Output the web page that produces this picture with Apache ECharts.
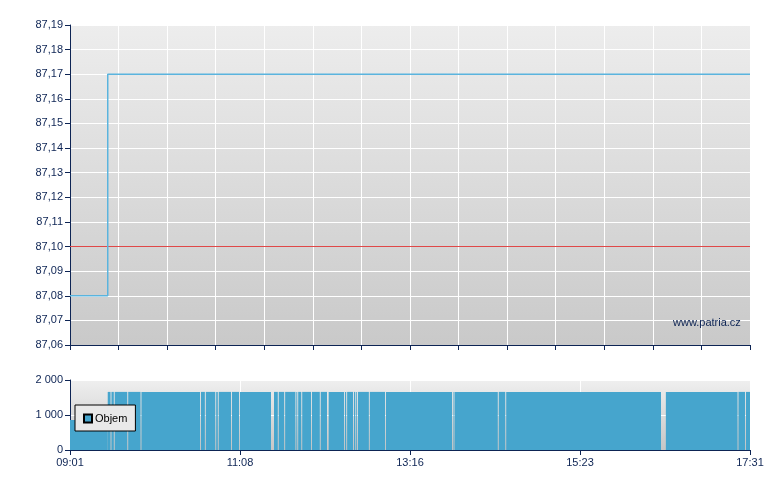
<!DOCTYPE html>
<html>
<head>
<meta charset="utf-8">
<script src="https://cdn.jsdelivr.net/npm/echarts@6/dist/echarts.min.js"></script>
<style>html,body{margin:0;padding:0;background:#fff;}#c{width:780px;height:490px;}</style>
</head>
<body>
<div id="c"></div>
<script>
// Time axis: minutes since 09:01 (09:01 .. 17:31)
const dayStart = 9 * 60 + 1;
const dayLength = 510;
const xTickLabels = ['09:01', '11:08', '13:16', '15:23', '17:31'];

// Price (step line)
const priceTimes = [0, 28.3, 510];
const priceValues = [87.08, 87.17, 87.17];
const prevClose = 87.10;
const priceTickLabels = ['87,06','87,07','87,08','87,09','87,10','87,11','87,12','87,13','87,14','87,15','87,16','87,17','87,18','87,19'];

// Volume (Objem) blocks: start minute, end minute, volume
const volStart = [0, 28.3, 31.1, 33.55, 43.65, 53.6, 98.25, 101.85, 109.65, 111.55, 121.45, 127.45, 153, 156.55, 161.35, 169.75, 171.15, 174.15, 181.45, 188.05, 194, 206.25, 207.85, 212.95, 214.65, 215.95, 224.85, 236.95, 287.25, 288.35, 321.55, 327.15, 446.9, 501.35, 506.95];
const volEnd   = [28.3, 30.4, 32.85, 42.95, 52.9, 97.55, 101.15, 108.95, 110.85, 120.75, 126.75, 150.75, 155.85, 160.65, 169.05, 170.45, 173.45, 180.75, 187.35, 192.75, 205.55, 207.15, 212.25, 213.95, 215.25, 224.15, 236.25, 286.55, 287.65, 320.85, 326.45, 443.25, 500.65, 506.25, 510];
const volValue = [860, 1660, 1660, 1660, 1660, 1660, 1660, 1660, 1660, 1660, 1660, 1660, 1660, 1660, 1660, 1660, 1660, 1660, 1660, 1660, 1660, 1660, 1660, 1660, 1660, 1660, 1660, 1660, 1660, 1660, 1660, 1660, 1660, 1660, 1660];
const volTickLabels = ['0', '1 000', '2 000'];

const navy = '#0d2454';
const font = 'Liberation Sans, Arial, sans-serif';
const bgGrad = (a, b) => new echarts.graphic.LinearGradient(0, 0, 0, 1, [{offset: 0, color: a}, {offset: 1, color: b}]);

const chart = echarts.init(document.getElementById('c'), null, {renderer: 'canvas'});
const priceData = priceTimes.map((t, i) => [t, priceValues[i]]);
const volData = volStart.map((s, i) => [s, volEnd[i], volValue[i]]);

chart.setOption({
  animation: false,
  backgroundColor: '#ffffff',
  textStyle: {fontFamily: font},
  grid: [
    {left: 70, right: 30, top: 25, height: 320, show: true, backgroundColor: bgGrad('#ededed', '#c9c9c9'), borderWidth: 0},
    {left: 70, right: 30, top: 380, height: 70, show: true, backgroundColor: bgGrad('#efefef', '#c6c6c6'), borderWidth: 0}
  ],
  legend: {
    data: [{name: 'Objem', icon: 'rect'}],
    left: 75, top: 405,
    padding: [8, 8, 7, 8],
    itemWidth: 8, itemHeight: 8, itemGap: 4,
    borderColor: '#000', borderWidth: 1, borderRadius: 0,
    backgroundColor: '#e9e9e9',
    textStyle: {color: '#000', fontSize: 11, fontFamily: font, padding: [0, 0, 0, -2]}
  },
  xAxis: [
    {
      type: 'value', gridIndex: 0, min: 0, max: dayLength, interval: dayLength / 14,
      axisLine: {show: true, lineStyle: {color: navy, width: 1}},
      axisTick: {show: true, length: 5, lineStyle: {color: navy}},
      axisLabel: {show: false},
      splitLine: {show: true, lineStyle: {color: '#ffffff', width: 1}}
    },
    {
      type: 'value', gridIndex: 1, min: 0, max: dayLength, interval: dayLength / 4,
      axisLine: {show: true, lineStyle: {color: navy, width: 1}},
      axisTick: {show: true, length: 5, lineStyle: {color: navy}},
      axisLabel: {
        show: true, color: navy, fontSize: 11, fontFamily: font, margin: 7,
        formatter: v => xTickLabels[Math.round(v / (dayLength / 4))]
      },
      splitLine: {show: true, lineStyle: {color: '#ffffff', width: 1}}
    }
  ],
  yAxis: [
    {
      type: 'value', gridIndex: 0, min: 87.06, max: 87.19, interval: 0.01,
      axisLine: {show: true, lineStyle: {color: navy, width: 1}},
      axisTick: {show: true, length: 5, lineStyle: {color: navy}},
      axisLabel: {
        color: navy, fontSize: 11, fontFamily: font, margin: 7,
        formatter: v => priceTickLabels[Math.round((v - 87.06) * 100)]
      },
      splitLine: {show: true, lineStyle: {color: '#ffffff', width: 1}}
    },
    {
      type: 'value', gridIndex: 1, min: 0, max: 2000, interval: 1000,
      axisLine: {show: true, lineStyle: {color: navy, width: 1}},
      axisTick: {show: true, length: 5, lineStyle: {color: navy}},
      axisLabel: {
        color: navy, fontSize: 11, fontFamily: font, margin: 7,
        formatter: v => volTickLabels[Math.round(v / 1000)]
      },
      splitLine: {show: true, lineStyle: {color: '#ffffff', width: 1}}
    }
  ],
  graphic: [
    {type: 'text', left: 673, top: 317, z: 100,
     style: {text: 'www.patria.cz', fill: navy, font: '11px ' + font}}
  ],
  series: [
    {
      name: 'Cena', type: 'line', xAxisIndex: 0, yAxisIndex: 0,
      data: priceData, step: 'end', showSymbol: false, symbol: 'none',
      lineStyle: {color: '#5ab4de', width: 1.5},
      z: 5,
      markLine: {
        silent: true, symbol: 'none', label: {show: false},
        lineStyle: {color: '#e04848', width: 1, type: 'solid'},
        data: [{yAxis: prevClose}]
      }
    },
    {
      name: 'Objem', type: 'custom', xAxisIndex: 1, yAxisIndex: 1,
      data: volData,
      encode: {x: [0, 1], y: 2},
      itemStyle: {color: '#46a5cd', borderColor: '#000', borderWidth: 1},
      renderItem: function (params, api) {
        const p0 = api.coord([api.value(0), api.value(2)]);
        const p1 = api.coord([api.value(1), 0]);
        return {
          type: 'rect',
          shape: {x: p0[0], y: p0[1], width: p1[0] - p0[0], height: p1[1] - p0[1]},
          style: {fill: '#46a5cd'}
        };
      },
      z: 2
    }
  ]
});
</script>
</body>
</html>
